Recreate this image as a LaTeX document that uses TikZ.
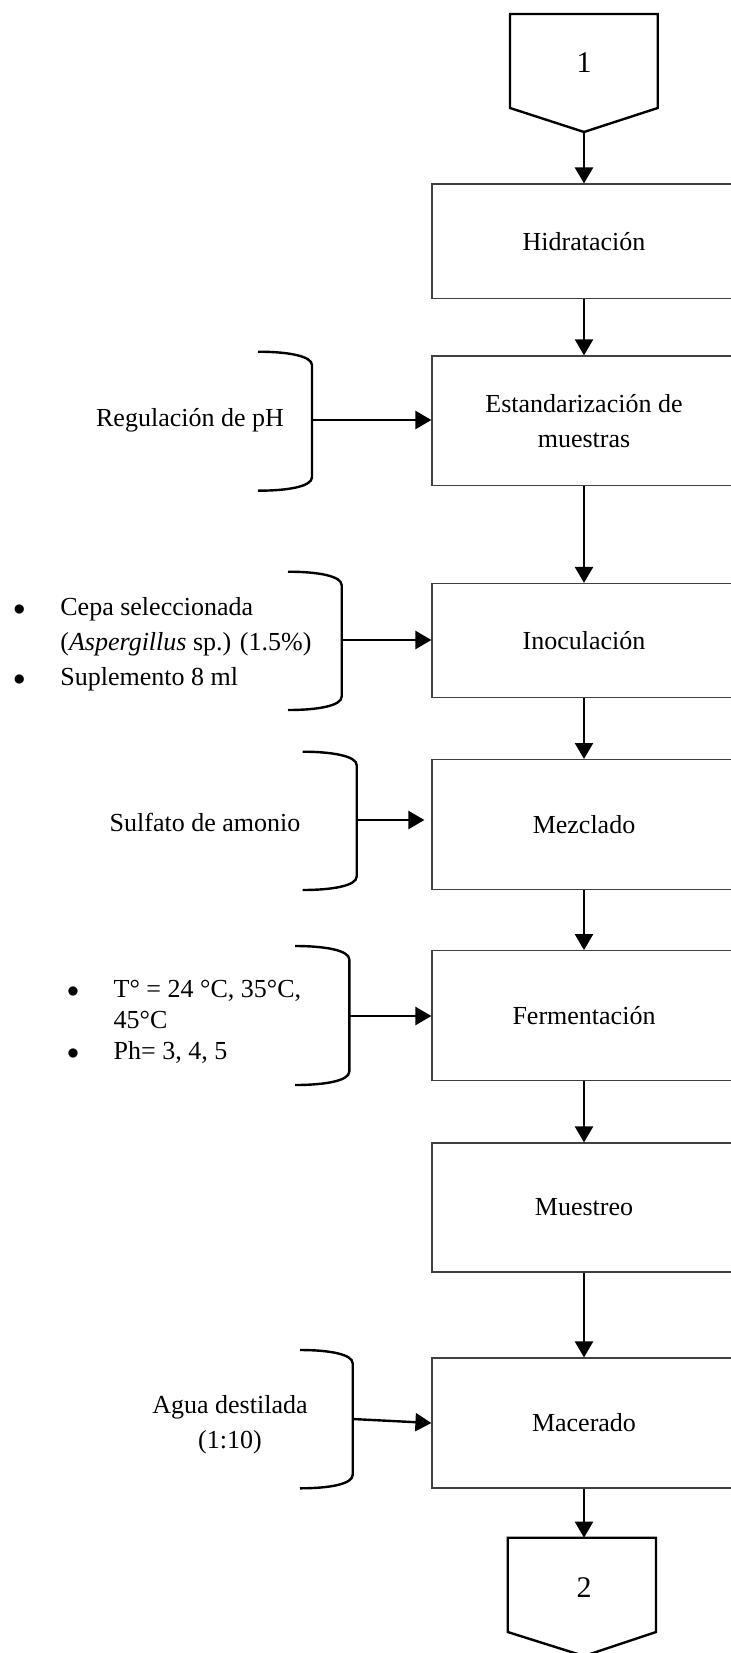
\documentclass[tikz,border=0pt]{standalone}
\usepackage{fontspec}
\setmainfont{Liberation Serif}
\usetikzlibrary{arrows.meta}

\tikzset{
  stage/.style={draw=black!75, line width=0.6pt, minimum width=152pt, inner sep=0pt, align=center},
  arr/.style={-{Triangle[length=8pt,width=9pt]}, line width=1.2pt},
  brace/.style={line width=1.2pt},
  offpage/.style={line width=1.2pt, line join=miter},
}

\begin{document}
\begin{tikzpicture}[x=0.5pt,y=-0.5pt,font=\fontsize{13}{17.5}\selectfont]
\clip (0,0) rectangle (731,1653);

% connectors between pages
\draw[offpage] (510,14) -- (657.7,14) -- (657.7,108) -- (584,132) -- (510,108) -- cycle;
\node[font=\fontsize{15}{18}\selectfont] (one) at (584,63) {1};
\coordinate (p1) at (584,132);

\draw[offpage] (507.7,1537.7) -- (656,1537.7) -- (656,1632) -- (584,1656) -- (507.7,1632) -- cycle;
\node[font=\fontsize{15}{18}\selectfont] (two) at (584,1588) {2};
\coordinate (p2) at (584,1537.7);

% stages
\node[stage, minimum height=57.25pt] (hid) at (584,241.3) {Hidratación};
\node[stage, minimum height=64.75pt] (est) at (584,420.7) {Estandarización de\\muestras};
\node[stage, minimum height=57pt] (ino) at (584,640.5) {Inoculación};
\node[stage, minimum height=65pt] (mez) at (584,824.6) {Mezclado};
\node[stage, minimum height=65pt] (fer) at (584,1015.7) {Fermentación};
\node[stage, minimum height=64.5pt] (mue) at (584,1207.5) {Muestreo};
\node[stage, minimum height=65pt] (mac) at (584,1423) {Macerado};

\draw[arr] (p1) -- (hid);
\draw[arr] (hid) -- (est);
\draw[arr] (est) -- (ino);
\draw[arr] (ino) -- (mez);
\draw[arr] (mez) -- (fer);
\draw[arr] (fer) -- (mue);
\draw[arr] (mue) -- (mac);
\draw[arr] (mac) -- (p2);

% inputs
\node (reg) at (190,420) {Regulación de pH};
\draw[brace] (258,351.7) .. controls (288,351.7) and (312,356) .. (312,365.2) -- (312,477.2) .. controls (312,486.5) and (288,490.7) .. (258,490.7);
\coordinate (b1) at (312,420);
\draw[arr] (b1) -- (b1 -| est.west);

\node[anchor=west, inner sep=0pt] (cepa) at (13,643) {\begin{tabular}{@{}p{23.5pt}@{}l@{}}
$\bullet$ & Cepa seleccionada\\
 & (\textit{Aspergillus} sp.) (1.5\%)\\
$\bullet$ & Suplemento 8 ml
\end{tabular}};
\draw[brace] (288,571.7) .. controls (318,571.7) and (341.7,576) .. (341.7,585.2) -- (341.7,696.5) .. controls (341.7,705.8) and (318,710) .. (288,710);
\coordinate (b2) at (341.7,640);
\draw[arr] (b2) -- (b2 -| ino.west);

\node (sulf) at (205,822) {Sulfato de amonio};
\draw[brace] (302.7,751.7) .. controls (332,751.7) and (356.7,756) .. (356.7,765.2) -- (356.7,876.5) .. controls (356.7,885.8) and (332,890) .. (302.7,890);
\coordinate (b3) at (356.7,820);
\draw[arr, shorten >=3.5pt] (b3) -- (b3 -| mez.west);

\node[anchor=west, inner sep=0pt] (temp) at (66.7,1022) {\fontsize{13}{15.5}\selectfont\begin{tabular}{@{}p{23.3pt}@{}l@{}}
$\bullet$ & T° = 24 °C, 35°C,\\
 & 45°C\\
$\bullet$ & Ph= 3, 4, 5
\end{tabular}};
\draw[brace] (295,946) .. controls (325,946) and (349.3,950.3) .. (349.3,959.5) -- (349.3,1071.5) .. controls (349.3,1080.8) and (325,1085) .. (295,1085);
\coordinate (b4) at (349.3,1016);
\draw[arr] (b4) -- (b4 -| fer.west);

\node[align=center] (agua) at (230,1424.5) {Agua destilada\\(1:10)};
\draw[brace] (300,1350) .. controls (330,1350) and (352.7,1354.3) .. (352.7,1363.5) -- (352.7,1474.8) .. controls (352.7,1484) and (330,1488.3) .. (300,1488.3);
\coordinate (b5) at (352.7,1419);
\draw[arr] (b5) -- (mac.west);

\end{tikzpicture}
\end{document}
